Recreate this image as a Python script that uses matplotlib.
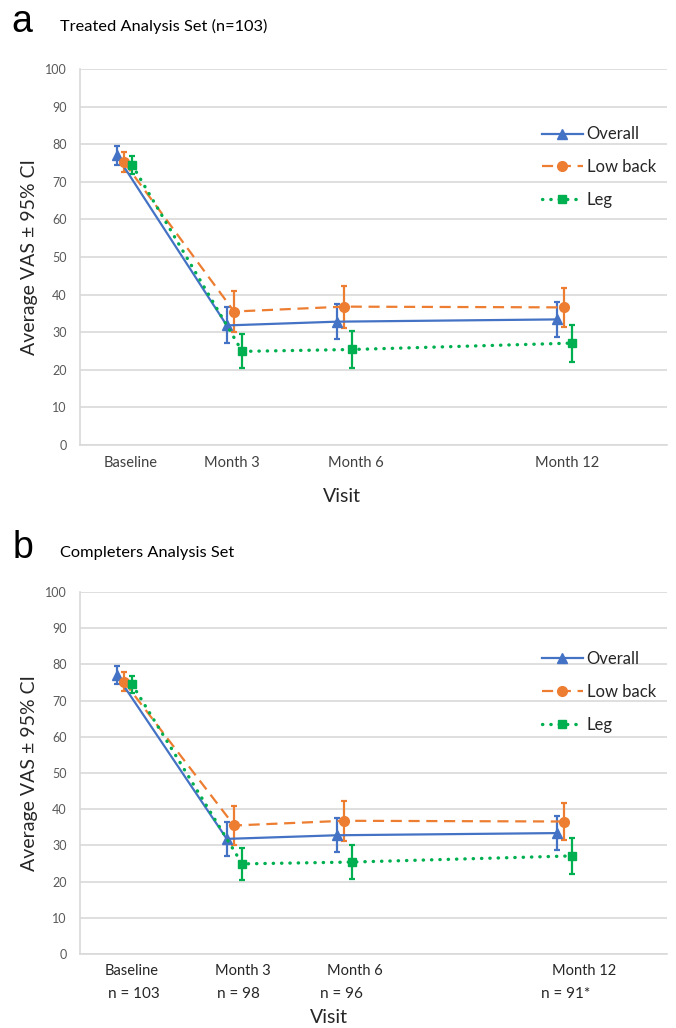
import matplotlib.pyplot as plt

# visit times in months and per-series horizontal nudge (as in the original chart)
months = [0, 3, 6, 12]
nudge = {'Overall': -0.2, 'Low back': 0.0, 'Leg': 0.22}

overall = [77.0, 31.8, 32.8, 33.4]
overall_ci = [2.5, 4.8, 4.7, 4.7]
low_back = [75.2, 35.5, 36.8, 36.6]
low_back_ci = [2.6, 5.4, 5.6, 5.2]
leg = [74.5, 24.9, 25.4, 27.1]
leg_ci = [2.4, 4.5, 4.8, 4.9]

visit_labels = ['Baseline', 'Month 3', 'Month 6', 'Month 12']
n_labels = ['n = 103', 'n = 98', 'n = 96', 'n = 91*']

# label positions (months) - text boxes were placed by hand in the original
top_label_x = [0.19, 2.94, 6.31, 12.08]
bot_label_x = [0.22, 3.24, 6.29, 12.54]
bot_n_x = [0.27, 3.13, 5.93, 12.05]

plt.rcParams['font.family'] = ['Lato', 'DejaVu Sans']

BLUE = '#4472C4'
ORANGE = '#ED7D31'
GREEN = '#00B050'
GRID = '#d9d9d9'
TXT = '#595959'

series = [
    ('Overall', overall, overall_ci, BLUE, '-', '^', 6.5),
    ('Low back', low_back, low_back_ci, ORANGE, (0, (5, 3)), 'o', 7),
    ('Leg', leg, leg_ci, GREEN, (0, (0.1, 2.4)), 's', 6),
]


def draw_panel(ax, legend_y):
    for name, vals, ci, col, ls, mk, ms in series:
        xs = [m + nudge[name] for m in months]
        ax.errorbar(xs, vals, yerr=ci, color=col, ecolor=col, elinewidth=1.6,
                    capsize=2.5, capthick=1.6, zorder=3, linestyle='none')
        ax.plot(xs, vals, color=col, linestyle=ls, linewidth=1.6 if name != 'Leg' else 2.4,
                marker=mk, markersize=ms, label=name, zorder=4,
                dash_capstyle='round' if name == 'Leg' else 'butt')
    ax.set_xlim(-1.2, 14.8)
    ax.set_ylim(0, 100)
    ax.set_yticks(range(0, 101, 10))
    ax.set_xticks([])
    ax.yaxis.grid(True, color=GRID, linewidth=1.2)
    ax.set_axisbelow(True)
    for s in ['top', 'right']:
        ax.spines[s].set_visible(False)
    for s in ['left', 'bottom']:
        ax.spines[s].set_color(GRID)
        ax.spines[s].set_linewidth(1.2)
    ax.tick_params(axis='y', length=0, pad=9.5, labelsize=9, labelcolor=TXT)
    ax.legend(loc='center left', bbox_to_anchor=(0.775, legend_y), frameon=False,
              fontsize=12, handlelength=2.5, labelspacing=1.0, handletextpad=0.2,
              borderaxespad=0, labelcolor='#262626')


fig = plt.figure(figsize=(6.76, 10.28), dpi=100)
ax1 = fig.add_axes([80 / 676, 1 - 445 / 1028, 587 / 676, 376 / 1028])
ax2 = fig.add_axes([80 / 676, 1 - 954 / 1028, 587 / 676, 362 / 1028])

draw_panel(ax1, 0.739)
draw_panel(ax2, 0.724)

for lx, lab in zip(top_label_x, visit_labels):
    ax1.annotate(lab, xy=(lx, 0), xycoords=('data', 'axes fraction'),
                 xytext=(0, -13), textcoords='offset points', ha='center', va='center',
                 fontsize=10.5, color='#404040')
ax1.annotate('Visit', xy=(5.93, 0), xycoords=('data', 'axes fraction'),
             xytext=(0, -37), textcoords='offset points', ha='center', va='center',
             fontsize=14, color='#262626')

for lx, lab in zip(bot_label_x, visit_labels):
    ax2.annotate(lab, xy=(lx, 0), xycoords=('data', 'axes fraction'),
                 xytext=(0, -12), textcoords='offset points', ha='center', va='center',
                 fontsize=10.5, color='#262626')
for lx, lab in zip(bot_n_x, n_labels):
    ax2.annotate(lab, xy=(lx, 0), xycoords=('data', 'axes fraction'),
                 xytext=(0, -28.5), textcoords='offset points', ha='center', va='center',
                 fontsize=11, color='#262626')
ax2.annotate('Visit', xy=(5.58, 0), xycoords=('data', 'axes fraction'),
             xytext=(0, -46), textcoords='offset points', ha='center', va='center',
             fontsize=14, color='#262626')

# y labels
fig.text(30 / 676, 1 - 257 / 1028, 'Average VAS \u00b1 95% CI', rotation=90,
         ha='center', va='center', fontsize=14, color='#262626')
fig.text(30 / 676, 1 - 773 / 1028, 'Average VAS \u00b1 95% CI', rotation=90,
         ha='center', va='center', fontsize=14, color='#262626')

# panel letters and titles
fig.text(11 / 676, 1 - 22 / 1028, 'a', fontsize=27, family='Liberation Sans',
         ha='left', va='center', color='black')
fig.text(60 / 676, 1 - 26 / 1028, 'Treated Analysis Set (n=103)', fontsize=11.8,
         ha='left', va='center', color='black')
fig.text(13 / 676, 1 - 548 / 1028, 'b', fontsize=27, family='Liberation Sans',
         ha='left', va='center', color='black')
fig.text(60 / 676, 1 - 553 / 1028, 'Completers Analysis Set', fontsize=11.8,
         ha='left', va='center', color='black')

fig.savefig('out.png', dpi=100)
